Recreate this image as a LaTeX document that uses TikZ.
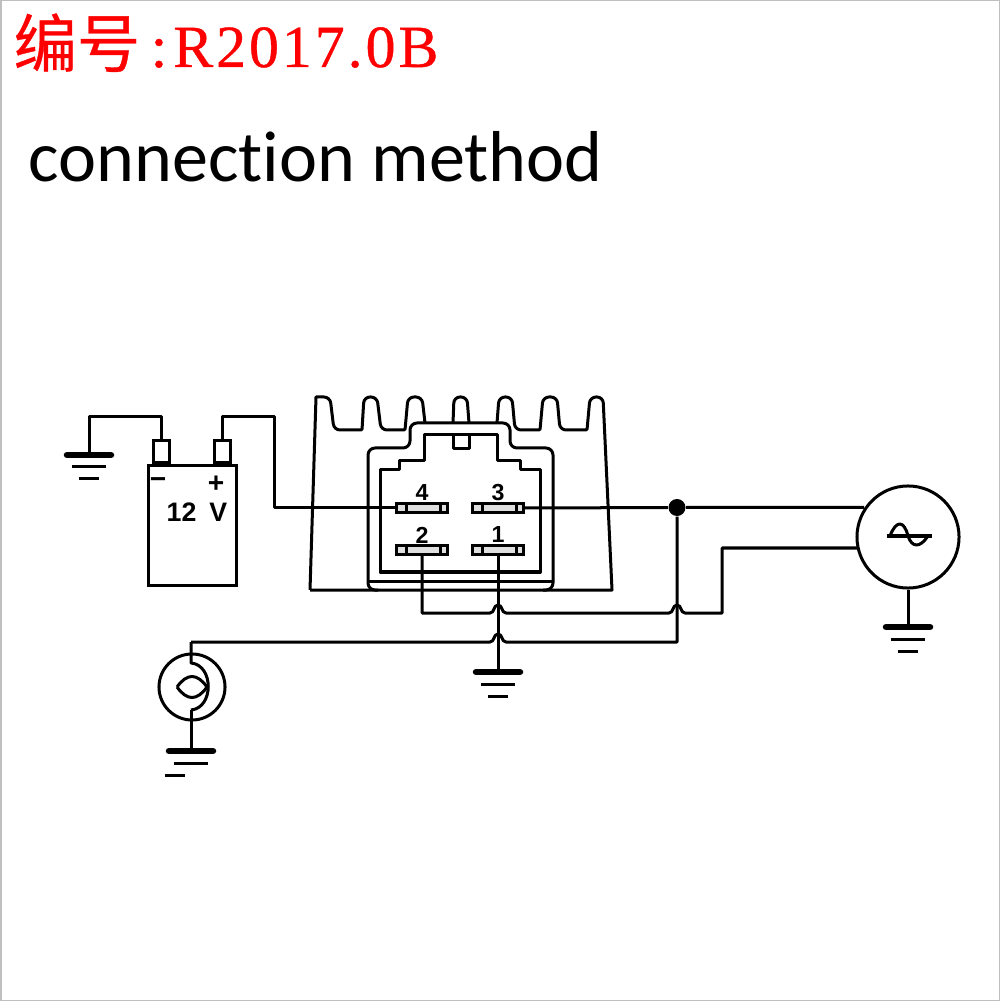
\documentclass[tikz,border=0pt]{standalone}
\usepackage{fontspec}
\setmainfont{Liberation Sans}
\newfontfamily\cjk{Noto Sans CJK SC}[FakeBold=0.5]
\newfontfamily\serif{Liberation Serif}[LetterSpace=5,FakeBold=0.7]
\newfontfamily\calibri{Carlito}[Ligatures=NoCommon]
\usetikzlibrary{positioning}
\tikzset{
  wire/.style={line width=0.3mm, line join=round},
  term/.style={draw, line width=0.3mm, fill=gray!25, minimum width=5.1mm, minimum height=0.8mm, inner sep=0},
  pole/.style={draw, line width=0.3mm, fill=white, minimum width=1.6mm, minimum height=2.2mm, inner sep=0},
  digit/.style={font=\fontsize{6.6}{7}\selectfont\bfseries, inner sep=0}
}
\newcommand{\Term}[4]{
  \node[term] (t#1) at (#2,#3) {};
  \draw[wire] (#2-16,#3-4) -- (#2-16,#3+4);
  \draw[wire] (#2+18,#3-4) -- (#2+18,#3+4);
  \node[digit] (lbl#1) at (#2,#3-15) {#4};
}
\newcommand{\Gnd}[4]{
  \coordinate (#1) at (#2,#3);
  \draw[line width=0.65mm, line cap=round] (#1) ++(-22,0) -- ++(44,0);
  \draw[wire] (#1) ++(-17,12) -- ++(34,0);
  \draw[wire] (#1) ++(#4-10,24) -- ++(20,0);
}

\begin{document}
\begin{tikzpicture}[x=0.01cm, y=-0.01cm]
\useasboundingbox (0,0) rectangle (1000,1001);
\draw[gray!50, line width=0.1mm] (1,1) rectangle (999,1000);

\node[anchor=base west, inner sep=0, text=red, font=\fontsize{18}{20}\selectfont\cjk] (code) at (13,67) {编号};
\node[anchor=base west, inner sep=0, text=red, font=\fontsize{17}{20}\selectfont\serif] (rev) at (150,67) {:\hspace{0.6mm}R2017.0B};
\node[anchor=base west, inner sep=0, font=\fontsize{20.5}{24}\selectfont\calibri] (title) at (28,182) {connection method};

% heat sink
\draw[wire, rounded corners=0.6mm] (310,590) [sharp corners] -- (316,397) [rounded corners=0.6mm] -- (330,397) -- (334,430) [rounded corners=0.1mm] -- (362,430) [rounded corners=0.6mm] -- (364,397) -- (377,397) -- (381,430) [rounded corners=0.1mm] -- (405,430) [rounded corners=0.6mm] -- (408,397) -- (422,397) -- (425,423);
\draw[wire, rounded corners=0.6mm] (453,423) -- (454,397) -- (467,397) -- (469,423);
\draw[wire, rounded corners=0.6mm] (497,423) -- (499,397) -- (512,397) -- (515,430) [rounded corners=0.1mm] -- (540,430) [rounded corners=0.6mm] -- (543,397) -- (557,397) -- (560,430) [rounded corners=0.1mm] -- (587,430) [rounded corners=0.6mm] -- (590,397) -- (603,397) [sharp corners] -- (612,590) -- (310,590);

% connector
\draw[wire, rounded corners=0.7mm] (378,590) -- (368,590) -- (368,448) -- (410,448) -- (410,423) -- (510,423) -- (510,448) -- (553,448) -- (553,590) -- (543,590);
\draw[wire] (369,581) -- (552,581);
\draw[wire] (380,470) -- (399,470) -- (399,461) -- (424,461) -- (424,435) -- (497,435) -- (497,461) -- (520,461) -- (520,470) -- (540,470) -- (540,572) -- (380,572) -- cycle;
\draw[wire] (453,435) -- (453,449) -- (469,449) -- (469,435);

\Term{d}{422}{508}{4}
\Term{c}{498}{508}{3}
\Term{b}{422}{550}{2}
\Term{a}{498}{550}{1}

% battery
\node[draw, line width=0.3mm, minimum width=8.7mm, minimum height=11.9mm, inner sep=0] (bat) at (192.5,525.5) {};
\node[pole, above=0mm of bat.north west, xshift=1.4mm, anchor=south] (batn) {};
\node[pole, above=0mm of bat.north east, xshift=-1.5mm, anchor=south] (batp) {};
\node[font=\fontsize{7.6}{8}\selectfont\bfseries, inner sep=0] (volt) at (197,512) {12\hspace{1.3mm}V};
\node[font=\fontsize{8}{8}\selectfont\bfseries, inner sep=0] (minus) at (158,483) {−};
\node[font=\fontsize{8}{8}\selectfont\bfseries, inner sep=0] (plus) at (216,484) {+};

\Gnd{g1}{89}{455}{0}
\coordinate (wn) at (89,417);
\draw[wire] (batn.north) |- (wn) -- (g1);
\coordinate (wp) at (274,417);
\draw[wire] (batp.north) |- (wp) |- (td.west);

% generator
\node[draw, circle, line width=0.3mm, minimum size=10.2mm, inner sep=0] (gen) at (908,537) {};
\draw[wire] (887,536) -- (932,536);
\draw[wire] (890,536) .. controls (896,520) and (904,520) .. (908,536) .. controls (912,548) and (920,548) .. (928,536);
\node[circle, fill=black, minimum size=1.7mm, inner sep=0] (jct) at (677,507.5) {};
\coordinate (gt) at (864,507.5);
\draw[wire] (tc.east) -- (jct) -- (gt);
\Gnd{g2}{908}{627}{0}
\draw[wire] (gen.south) -- (g2);

% wires under the regulator
\coordinate (a1) at (422,613);
\coordinate (a2) at (722,613);
\coordinate (a3) at (858,548);
\draw[wire] (tb.south) -- (a1) -- (490,613) .. controls (495,613) and (493,605) .. (498,605) .. controls (503,605) and (501,613) .. (506,613) -- (669,613) .. controls (674,613) and (672,605) .. (677,605) .. controls (682,605) and (680,613) .. (685,613) -- (a2) |- (a3);
\Gnd{g3}{498}{672}{0}
\draw[wire] (ta.south) -- (g3);
\coordinate (b1) at (677,642);
\coordinate (b2) at (191,642);
\draw[wire] (jct) -- (b1) -- (506,642) .. controls (501,642) and (503,634) .. (498,634) .. controls (493,634) and (495,642) .. (490,642) -- (b2);

% lamp
\node[draw, circle, line width=0.3mm, minimum size=6.6mm, inner sep=0] (lamp) at (192,687) {};
\coordinate (c1) at (191,663);
\coordinate (c2) at (191,710);
\draw[wire] (b2) -- (c1) .. controls (214,665) and (214,708) .. (c2);
\Gnd{g4}{191}{751}{-16}
\draw[wire] (c2) -- (g4);
\draw[wire] (177,687) .. controls (187,673) and (197,673) .. (207,687) .. controls (197,701) and (187,701) .. (177,687);
\end{tikzpicture}
\end{document}
